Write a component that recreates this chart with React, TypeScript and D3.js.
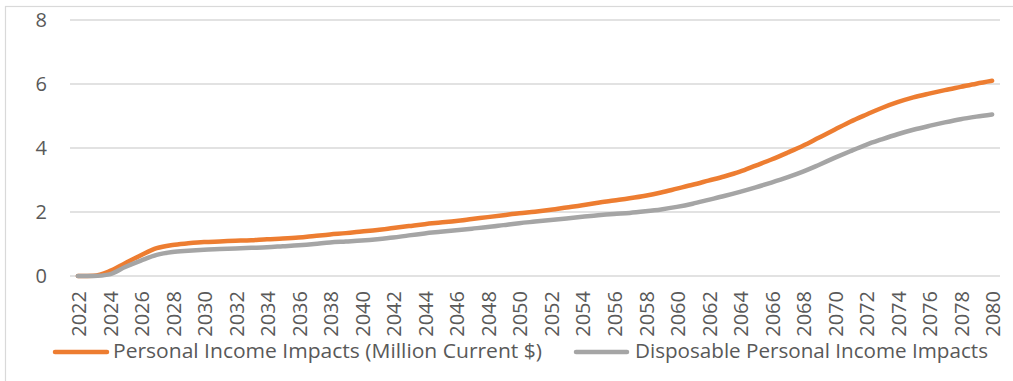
import React from "react";
import * as d3 from "d3";

// Years 2022–2080
const years: number[] = [
  2022, 2023, 2024, 2025, 2026, 2027, 2028, 2029, 2030, 2031,
  2032, 2033, 2034, 2035, 2036, 2037, 2038, 2039, 2040, 2041,
  2042, 2043, 2044, 2045, 2046, 2047, 2048, 2049, 2050, 2051,
  2052, 2053, 2054, 2055, 2056, 2057, 2058, 2059, 2060, 2061,
  2062, 2063, 2064, 2065, 2066, 2067, 2068, 2069, 2070, 2071,
  2072, 2073, 2074, 2075, 2076, 2077, 2078, 2079, 2080,
];

const personalIncome: number[] = [
  0, 0.01, 0.15, 0.4, 0.65, 0.87, 0.97, 1.02, 1.06, 1.08,
  1.1, 1.12, 1.15, 1.17, 1.2, 1.25, 1.3, 1.34, 1.39, 1.44,
  1.5, 1.56, 1.62, 1.67, 1.72, 1.78, 1.84, 1.9, 1.96, 2.01,
  2.07, 2.14, 2.21, 2.29, 2.36, 2.43, 2.51, 2.61, 2.73, 2.85,
  2.98, 3.11, 3.26, 3.45, 3.64, 3.85, 4.07, 4.32, 4.57, 4.82,
  5.04, 5.25, 5.43, 5.58, 5.7, 5.81, 5.91, 6.01, 6.1,
];

const disposableIncome: number[] = [
  0, 0, 0.05, 0.28, 0.48, 0.66, 0.75, 0.79, 0.82, 0.84,
  0.86, 0.88, 0.9, 0.93, 0.96, 1.0, 1.05, 1.08, 1.11, 1.15,
  1.2, 1.27, 1.33, 1.38, 1.43, 1.48, 1.53, 1.59, 1.65, 1.7,
  1.75, 1.8, 1.85, 1.9, 1.94, 1.97, 2.02, 2.08, 2.16, 2.26,
  2.38, 2.5, 2.63, 2.77, 2.92, 3.08, 3.26, 3.47, 3.69, 3.9,
  4.1, 4.27, 4.43, 4.57, 4.69, 4.8, 4.9, 4.98, 5.05,
];

const yTicks: number[] = [0, 2, 4, 6, 8];
const seriesNames: string[] = [
  "Personal Income Impacts (Million Current $)",
  "Disposable Personal Income Impacts",
];
const seriesColors: string[] = ["#ED7D31", "#A5A5A5"];

const W = 1013;
const H = 381;
const FONT = "'Open Sans', 'Noto Sans', sans-serif";
const TEXT = "#595959";
const GRID = "#D9D9D9";

export default function App() {
  const x = d3
    .scalePoint<number>()
    .domain(years)
    .range([70, 1000])
    .padding(0.5);
  const y = d3.scaleLinear().domain([0, 8]).range([276, 20]);

  const line = d3
    .line<number>()
    .x((_, i) => x(years[i]) as number)
    .y((d) => y(d))
    .curve(d3.curveMonotoneX);

  const series = [personalIncome, disposableIncome];
  const labelYears = years.filter((yr) => (yr - 2022) % 2 === 0);

  // legend geometry
  const legend = [
    { x1: 55, x2: 107, tx: 113, tw: 429 },
    { x1: 576, x2: 627, tx: 635, tw: 353 },
  ];

  return (
    <svg
      width={W}
      height={H}
      style={{ position: "absolute", left: 0, top: 0, background: "#fff" }}
      fontFamily={FONT}
    >
      <rect x={0} y={0} width={W} height={H} fill="#fff" />
      {/* chart border */}
      <rect x={5.5} y={6.5} width={W + 20} height={H + 20} fill="none" stroke={GRID} strokeWidth={1.2} />

      {/* gridlines */}
      {yTicks.map((t) => (
        <line key={t} x1={70} x2={1000} y1={y(t)} y2={y(t)} stroke={GRID} strokeWidth={1.3} />
      ))}

      {/* y-axis labels */}
      {yTicks.map((t) => (
        <text key={t} x={47} y={y(t)} dy="0.36em" textAnchor="end" fontSize={20} fill={TEXT}>
          {t}
        </text>
      ))}

      {/* x-axis labels */}
      {labelYears.map((yr) => (
        <text
          key={yr}
          transform={`translate(${(x(yr) as number) + 1},291) rotate(-90)`}
          dy="0.36em"
          textAnchor="end"
          fontSize={20}
          fill={TEXT}
        >
          {yr}
        </text>
      ))}

      {/* series lines */}
      {series.map((s, i) => (
        <path
          key={i}
          d={line(s) || ""}
          fill="none"
          stroke={seriesColors[i]}
          strokeWidth={4.5}
          strokeLinecap="round"
          strokeLinejoin="round"
        />
      ))}

      {/* legend */}
      {legend.map((l, i) => (
        <g key={i}>
          <line x1={l.x1} x2={l.x2} y1={352} y2={352} stroke={seriesColors[i]} strokeWidth={4.5} strokeLinecap="round" />
          <text
            x={l.tx}
            y={358}
            fontSize={20}
            fill={TEXT}
            textLength={l.tw}
            lengthAdjust="spacingAndGlyphs"
          >
            {seriesNames[i]}
          </text>
        </g>
      ))}
    </svg>
  );
}
